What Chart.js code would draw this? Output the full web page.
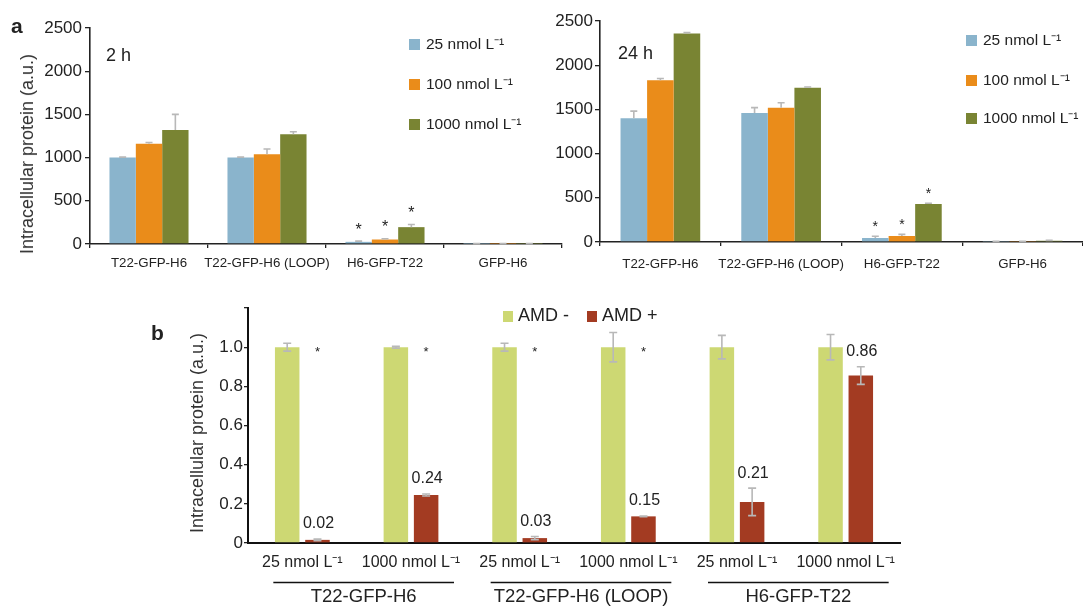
<!DOCTYPE html>
<html>
<head>
<meta charset="utf-8">
<script src="https://cdn.jsdelivr.net/npm/chart.js@4.4.0/dist/chart.umd.min.js"></script>
<style>
  body { margin: 0; background: #fff; width: 1083px; height: 607px; position: relative; overflow: hidden;
         font-family: 'Liberation Sans', Arial, sans-serif; color: #222; }
  canvas { position: absolute; }
  .txt { position: absolute; white-space: nowrap; line-height: 1; }
  .ytitle { position: absolute; white-space: nowrap; transform: translate(-50%, -50%) rotate(-90deg); line-height: 1; color: #333; }
  .leg { position: absolute; white-space: nowrap; font-size: 15.5px; line-height: 1; color: #222; }
  .leg span.box { display: inline-block; width: 11px; height: 11px; margin-right: 6px; vertical-align: -1px; }
</style>
</head>
<body>
<canvas id="chart2h" width="566" height="280" style="left:0;top:0"></canvas>
<canvas id="chart24h" width="563" height="280" style="left:520px;top:0"></canvas>
<canvas id="chartB" width="760" height="317" style="left:150px;top:290px"></canvas>

<div class="txt" style="left:11px;top:15px;font-size:21px;font-weight:bold">a</div>
<div class="txt" style="left:151px;top:322px;font-size:21px;font-weight:bold">b</div>
<div class="txt" style="left:106px;top:46px;font-size:18px">2 h</div>
<div class="txt" style="left:618px;top:44px;font-size:18px">24 h</div>
<div class="ytitle" style="left:27px;top:154px;font-size:18px">Intracellular protein (a.u.)</div>
<div class="ytitle" style="left:197px;top:433px;font-size:18px">Intracellular protein (a.u.)</div>
<div id="leg2h"></div>
<div id="leg24h"></div>
<div id="legB"></div>

<script>
// categorias e séries
const cats = ['T22-GFP-H6', 'T22-GFP-H6 (LOOP)', 'H6-GFP-T22', 'GFP-H6'];
const doseNames = ['25 nmol L\u207B\u00B9', '100 nmol L\u207B\u00B9', '1000 nmol L\u207B\u00B9'];
const doseColors = ['#8ab4cc', '#ea8c1a', '#798433'];

// 2 h
const h2_25 = [1000, 1000, 25, 2];
const h2_100 = [1160, 1040, 52, 2];
const h2_1000 = [1320, 1270, 195, 2];
const h2_25err = [5, 5, 8, 2];
const h2_100err = [15, 60, 8, 2];
const h2_1000err = [180, 30, 30, 2];
const h2_stars = [false, false, true, false];

// 24 h
const h24_25 = [1400, 1460, 45, 4];
const h24_100 = [1830, 1520, 68, 4];
const h24_1000 = [2360, 1745, 430, 14];
const h24_25err = [80, 60, 20, 3];
const h24_100err = [20, 55, 18, 3];
const h24_1000err = [8, 8, 8, 4];
const h24_stars = [false, false, true, false];

// painel b
const bCats = ['25 nmol L\u207B\u00B9', '1000 nmol L\u207B\u00B9', '25 nmol L\u207B\u00B9', '1000 nmol L\u207B\u00B9', '25 nmol L\u207B\u00B9', '1000 nmol L\u207B\u00B9'];
const bGroups = ['T22-GFP-H6', 'T22-GFP-H6 (LOOP)', 'H6-GFP-T22'];
const amdNames = ['AMD -', 'AMD +'];
const amdColors = ['#cdd873', '#a33b22'];
const amdMinus = [1, 1, 1, 1, 1, 1];
const amdPlus = [0.016, 0.245, 0.025, 0.136, 0.21, 0.855];
const amdMinusErr = [0.02, 0.005, 0.02, 0.075, 0.06, 0.065];
const amdPlusErr = [0.004, 0.005, 0.008, 0.002, 0.07, 0.045];
const amdPlusLabels = ['0.02', '0.24', '0.03', '0.15', '0.21', '0.86'];
const bStars = [true, true, true, true, false, false];

const FONT = "'Liberation Sans', Arial, sans-serif";

// plugin: barras de erro, asteriscos, rótulos e grupos
const extras = {
    id: 'extras',
    afterDatasetsDraw(chart, args, opts) {
        const ctx = chart.ctx;
        const y = chart.scales.y;
        ctx.save();
        chart.data.datasets.forEach((ds, di) => {
            const meta = chart.getDatasetMeta(di);
            meta.data.forEach((bar, i) => {
                const v = ds.data[i];
                const e = ds.errors ? ds.errors[i] : 0;
                const top = y.getPixelForValue(v + e);
                const bot = opts.both ? y.getPixelForValue(v - e) : y.getPixelForValue(v);
                const c = opts.cap / 2;
                ctx.strokeStyle = '#b8b8b8';
                ctx.lineWidth = 1.6;
                ctx.beginPath();
                ctx.moveTo(bar.x, top); ctx.lineTo(bar.x, bot);
                ctx.moveTo(bar.x - c, top); ctx.lineTo(bar.x + c, top);
                if (opts.both) { ctx.moveTo(bar.x - c, bot); ctx.lineTo(bar.x + c, bot); }
                ctx.stroke();

                ctx.fillStyle = '#222';
                ctx.textAlign = 'center';
                ctx.textBaseline = 'middle';
                if (ds.stars && ds.stars[i]) {
                    ctx.font = opts.starSize + 'px ' + FONT;
                    const sy = opts.starAt !== undefined ? y.getPixelForValue(opts.starAt) + opts.starGap : top - opts.starGap;
                    ctx.fillText('*', bar.x, sy);
                }
                if (ds.valueLabels) {
                    ctx.font = '16px ' + FONT;
                    ctx.fillText(ds.valueLabels[i], bar.x + 1, top - 15);
                }
            });
        });
        // grupos por baixo do eixo x (painel b)
        if (opts.groups) {
            const x = chart.scales.x;
            ctx.strokeStyle = '#111';
            ctx.lineWidth = 1.6;
            ctx.fillStyle = '#222';
            ctx.font = '18.5px ' + FONT;
            ctx.textAlign = 'center';
            ctx.textBaseline = 'middle';
            opts.groups.forEach((g, gi) => {
                const x1 = x.getPixelForValue(gi * 2) - 29;
                const x2 = x.getPixelForValue(gi * 2 + 1) + 43;
                const ly = x.top + 39.5;
                ctx.beginPath(); ctx.moveTo(x1, ly); ctx.lineTo(x2, ly); ctx.stroke();
                ctx.fillText(g, (x1 + x2) / 2, x.top + 54);
            });
        }
        ctx.restore();
    }
};

function makeDatasets(values, errs, stars) {
    return values.map((v, k) => ({
        label: doseNames[k],
        data: v,
        errors: errs[k],
        stars: stars,
        backgroundColor: doseColors[k],
        borderWidth: 0
    }));
}

function panelA(id, values, errs, stars, cfg) {
    return new Chart(document.getElementById(id), {
        type: 'bar',
        data: { labels: cats, datasets: makeDatasets(values, errs, stars) },
        options: {
            responsive: false,
            animation: false,
            events: [],
            categoryPercentage: cfg.catPct,
            barPercentage: 1.0,
            layout: { padding: { top: cfg.top, right: cfg.right, left: 0, bottom: 0 } },
            plugins: {
                legend: { display: false },
                tooltip: { enabled: false },
                extras: { both: false, cap: 7, starSize: cfg.starSize, starGap: cfg.starGap }
            },
            scales: {
                x: {
                    afterFit: (s) => { s.height = cfg.xh; },
                    grid: { drawOnChartArea: false, tickLength: 4, color: '#222', lineWidth: 1.3 },
                    border: { color: '#222', width: 1.6 },
                    ticks: { color: '#222', font: { size: 13.3, family: FONT }, padding: cfg.xpad, maxRotation: 0, autoSkip: false }
                },
                y: {
                    min: 0, max: 2500,
                    afterFit: (s) => { s.width = cfg.yw; },
                    grid: { drawOnChartArea: false, tickLength: 5, color: '#222', lineWidth: 1.3 },
                    border: { color: '#222', width: 1.6 },
                    ticks: { stepSize: 500, color: '#222', font: { size: 17, family: FONT }, padding: cfg.ypad,
                             callback: (v) => String(v) }
                }
            }
        },
        plugins: [extras]
    });
}

panelA('chart2h', [h2_25, h2_100, h2_1000], [h2_25err, h2_100err, h2_1000err], h2_stars,
    { catPct: 0.67, top: 28, right: 4, xh: 36, yw: 90, xpad: 7, ypad: 3, starSize: 16, starGap: 11 });
panelA('chart24h', [h24_25, h24_100, h24_1000], [h24_25err, h24_100err, h24_1000err], h24_stars,
    { catPct: 0.66, top: 21, right: 0, xh: 38, yw: 80, xpad: 10, ypad: 2, starSize: 14, starGap: 9 });

// painel b
new Chart(document.getElementById('chartB'), {
    type: 'bar',
    data: {
        labels: bCats,
        datasets: [
            { label: amdNames[0], data: amdMinus, errors: amdMinusErr, backgroundColor: amdColors[0], borderWidth: 0 },
            { label: amdNames[1], data: amdPlus, errors: amdPlusErr, stars: bStars, valueLabels: amdPlusLabels, backgroundColor: amdColors[1], borderWidth: 0 }
        ]
    },
    options: {
        responsive: false,
        animation: false,
        events: [],
        categoryPercentage: 0.557,
        barPercentage: 0.81,
        layout: { padding: { top: 18, right: 10, left: 0, bottom: 0 } },
        plugins: {
            legend: { display: false },
            tooltip: { enabled: false },
            extras: { both: true, cap: 8, starSize: 13, starAt: 1.0, starGap: 5, groups: bGroups }
        },
        scales: {
            x: {
                afterFit: (s) => { s.height = 64; },
                grid: { display: false, drawTicks: false },
                border: { color: '#111', width: 2 },
                ticks: { color: '#222', font: { size: 16, family: FONT }, padding: 10, maxRotation: 0, autoSkip: false }
            },
            y: {
                min: 0, max: 1.2,
                afterFit: (s) => { s.width = 98; },
                grid: { drawOnChartArea: false, tickLength: 4, color: '#222', lineWidth: 1.3 },
                border: { color: '#111', width: 2 },
                ticks: {
                    stepSize: 0.2, color: '#222', font: { size: 17, family: FONT }, padding: 1,
                    callback: (v) => v === 0 ? '0' : (v > 1.1 ? '' : v.toFixed(1))
                }
            }
        }
    },
    plugins: [extras]
});

// legendas em HTML
function buildLegend(id, names, colors, x, ys) {
    const el = document.getElementById(id);
    names.forEach((n, k) => {
        const d = document.createElement('div');
        d.className = 'leg';
        d.style.left = x + 'px';
        d.style.top = (ys[k] - 8) + 'px';
        d.innerHTML = '<span class="box" style="background:' + colors[k] + '"></span>' + n;
        el.appendChild(d);
    });
}
buildLegend('leg2h', doseNames, doseColors, 409, [44, 84, 124]);
buildLegend('leg24h', doseNames, doseColors, 966, [40, 80, 118]);

const legB = document.getElementById('legB');
[503, 587].forEach((x, k) => {
    const d = document.createElement('div');
    d.className = 'leg';
    d.style.left = x + 'px';
    d.style.top = '306px';
    d.style.fontSize = '18px';
    d.innerHTML = '<span class="box" style="background:' + amdColors[k] + ';width:10px;height:11px;margin-right:5px"></span>' + amdNames[k];
    legB.appendChild(d);
});
</script>
</body>
</html>
